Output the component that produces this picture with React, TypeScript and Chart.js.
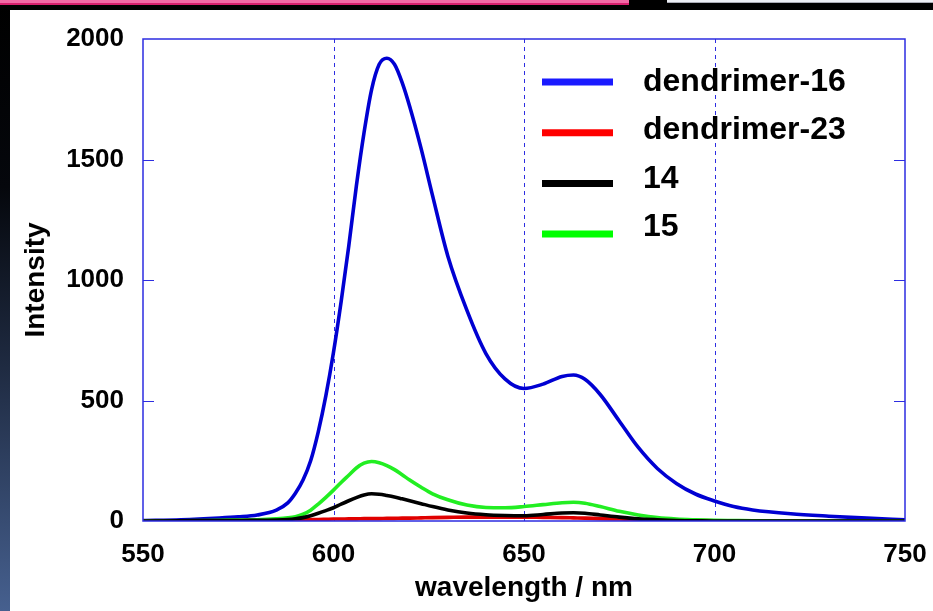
import React, { useEffect, useRef } from "react";
import { Chart, registerables } from "chart.js";

Chart.register(...registerables);

const wavelengths = [550,560,570,575,580,585,588,590,592,594,596,598,600,602,604,606,608,610,612,614,616,618,620,623,626,630,635,640,645,650,655,660,663,666,670,675,680,685,690,695,700,705,710,720,730,740,750];

const dendrimer16 = [2,5,12,17,25,45,75,115,170,250,370,520,700,910,1140,1390,1610,1790,1895,1920,1895,1820,1720,1545,1350,1100,875,695,590,550,568,600,606,588,525,415,305,218,156,112,83,60,46,30,20,12,5];
const dendrimer23 = [0,0,1,2,3,4,4,5,5,6,6,7,8,8,9,9,10,10,10,11,11,12,12,13,14,15,16,16,16,16,15,14,13,12,10,8,6,4,3,2,1,0,0,0,0,0,0];
const compound14 = [0,1,2,2,3,4,6,9,14,22,32,43,55,70,84,97,108,113,111,106,100,92,84,72,60,46,33,26,23,22,27,33,34,32,25,16,9,5,2,1,0,0,0,0,0,0,0];
const compound15 = [0,1,3,4,5,9,13,18,28,45,70,98,128,160,190,220,240,247,242,230,213,192,170,140,113,88,66,56,55,60,68,76,78,74,60,40,25,14,8,5,3,2,1,0,0,0,0];

const seriesLabels = ["dendrimer-16", "dendrimer-23", "14", "15"];
const lineColors = ["#0000d2", "#e00000", "#000000", "#22ee22"];
const legendColors = ["#1a1aff", "#ff0000", "#000000", "#00ff00"];
const seriesValues = [dendrimer16, dendrimer23, compound14, compound15];
const drawOrder = [3, 2, 0, 1];

const xTicks = [550, 600, 650, 700, 750];
const yTicks = [0, 500, 1000, 1500, 2000];
const xTitle = "wavelength / nm";
const yTitle = "Intensity";

const FONT = "'Liberation Sans', Arial, Helvetica, sans-serif";
const FRAME = "rgb(45,45,225)";

const framePlugin = {
  id: "gnuplotFrame",
  beforeDatasetsDraw(chart: any) {
    const { ctx, chartArea } = chart;
    const xs = chart.scales.x;
    ctx.save();
    ctx.strokeStyle = FRAME;
    ctx.lineWidth = 1;
    ctx.setLineDash([4, 4]);
    for (const v of xTicks.slice(1, -1)) {
      const px = Math.round(xs.getPixelForValue(v)) + 0.5;
      ctx.beginPath();
      ctx.moveTo(px, chartArea.top);
      ctx.lineTo(px, chartArea.bottom);
      ctx.stroke();
    }
    ctx.restore();
  },
  afterDraw(chart: any) {
    const { ctx, chartArea } = chart;
    const ys = chart.scales.y;
    ctx.save();
    ctx.strokeStyle = FRAME;
    ctx.lineWidth = 1.5;
    ctx.strokeRect(chartArea.left, chartArea.top, chartArea.right - chartArea.left, chartArea.bottom - chartArea.top);
    ctx.lineWidth = 1;
    for (const v of yTicks.slice(1, -1)) {
      const py = Math.round(ys.getPixelForValue(v)) + 0.5;
      ctx.beginPath();
      ctx.moveTo(chartArea.left, py);
      ctx.lineTo(chartArea.left + 11, py);
      ctx.moveTo(chartArea.right, py);
      ctx.lineTo(chartArea.right - 11, py);
      ctx.stroke();
    }
    // legend
    const lx0 = chartArea.left + 399;
    const lx1 = chartArea.left + 470;
    const tx = chartArea.left + 500;
    ctx.font = `bold 32px ${FONT}`;
    ctx.textBaseline = "middle";
    ctx.textAlign = "left";
    seriesLabels.forEach((label, i) => {
      const ly = chartArea.top + 43 + i * 50.7;
      ctx.strokeStyle = legendColors[i];
      ctx.lineWidth = 7;
      ctx.beginPath();
      ctx.moveTo(lx0, ly);
      ctx.lineTo(lx1, ly);
      ctx.stroke();
      ctx.fillStyle = "#000";
      ctx.fillText(label, tx, chartArea.top + 43 + i * 48.5);
    });
    ctx.restore();
  },
};

export default function App() {
  const canvasRef = useRef<HTMLCanvasElement | null>(null);

  useEffect(() => {
    if (!canvasRef.current) return;
    const chart = new Chart(canvasRef.current, {
      type: "line",
      data: {
        datasets: seriesLabels.map((label, i) => ({
          label,
          data: wavelengths.map((w, j) => ({ x: w, y: seriesValues[i][j] })),
          borderColor: lineColors[i],
          backgroundColor: lineColors[i],
          borderWidth: 3.6,
          pointRadius: 0,
          cubicInterpolationMode: "monotone" as const,
          fill: false,
          order: drawOrder[i],
        })),
      },
      options: {
        animation: false,
        responsive: false,
        maintainAspectRatio: false,
        layout: { padding: { top: 29, right: 28, left: 0, bottom: 0 } },
        plugins: { legend: { display: false }, tooltip: { enabled: false } },
        scales: {
          x: {
            type: "linear",
            min: 550,
            max: 750,
            afterFit: (s: any) => { s.height = 90; s.paddingLeft = 0; s.paddingRight = 0; },
            afterBuildTicks: (s: any) => { s.ticks = xTicks.map((v) => ({ value: v })); },
            grid: { display: false, drawTicks: false },
            border: { display: false },
            ticks: {
              color: "#000",
              padding: 18,
              maxRotation: 0,
              callback: (v: any) => String(v),
              font: { family: FONT, size: 26, weight: "bold" },
            },
            title: {
              display: true,
              text: xTitle,
              color: "#000",
              padding: { top: 0, bottom: 6 },
              font: { family: FONT, size: 28, weight: "bold" },
            },
          },
          y: {
            type: "linear",
            min: 0,
            max: 2000,
            afterFit: (s: any) => { s.width = 133; s.paddingTop = 0; s.paddingBottom = 0; },
            afterBuildTicks: (s: any) => { s.ticks = yTicks.map((v) => ({ value: v })); },
            grid: { display: false, drawTicks: false },
            border: { display: false },
            ticks: {
              color: "#000",
              padding: 19,
              callback: (v: any) => String(v),
              font: { family: FONT, size: 26, weight: "bold" },
            },
            title: {
              display: true,
              text: yTitle,
              color: "#000",
              padding: { top: 9, bottom: 0 },
              font: { family: FONT, size: 28, weight: "bold" },
            },
          },
        },
      },
      plugins: [framePlugin],
    });
    return () => chart.destroy();
  }, []);

  return (
    <div style={{ position: "fixed", left: 0, top: 0, width: 933, height: 611, background: "#000", overflow: "hidden" }}>
      <div style={{ position: "absolute", left: 0, top: 0, width: 629, height: 3, background: "#f36aa6" }} />
      <div style={{ position: "absolute", left: 0, top: 3, width: 629, height: 2, background: "#d8206e" }} />
      <div style={{ position: "absolute", left: 667, top: 0, width: 266, height: 2, background: "#eceef4" }} />
      <div style={{ position: "absolute", left: 667, top: 2, width: 266, height: 1, background: "#a8aab4" }} />
      <div style={{ position: "absolute", left: 0, top: 5, width: 10, height: 606, background: "linear-gradient(to bottom, #000 0%, #05070c 30%, #1f2b42 60%, #46608f 100%)" }} />
      <div style={{ position: "absolute", left: 10, top: 10, width: 923, height: 601, background: "#fff" }}>
        <canvas ref={canvasRef} width={923} height={601} style={{ display: "block", width: 923, height: 601 }} />
      </div>
    </div>
  );
}
